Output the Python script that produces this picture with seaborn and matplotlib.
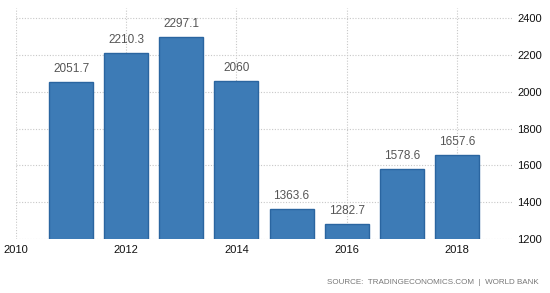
import matplotlib
matplotlib.use("Agg")
import matplotlib.pyplot as plt
import seaborn as sns
import pandas as pd

years = [2011, 2012, 2013, 2014, 2015, 2016, 2017, 2018]
values = [2051.7, 2210.3, 2297.1, 2060, 1363.6, 1282.7, 1578.6, 1657.6]
xticks = [2010, 2012, 2014, 2016, 2018]
yticks = [1200, 1400, 1600, 1800, 2000, 2200, 2400]

sns.set_style("white")
plt.rcParams['font.family'] = ['Liberation Sans', 'DejaVu Sans']

fig = plt.figure(figsize=(5.5, 2.93), dpi=100)
ax = fig.add_axes([16/550, 54/293, 496/550, (239-8)/293])

df = pd.DataFrame({"year": years, "value": values})
sns.barplot(data=df, x="year", y="value", native_scale=True, width=0.8,
            color="#3d7bb6", edgecolor="#2a65a0", linewidth=1, saturation=1, ax=ax)

ax.set_xlim(2010, 2019)
ax.set_ylim(1200, 2455)
ax.set_xticks(xticks)
ax.set_xticklabels([str(t) for t in xticks])
ax.set_yticks(yticks)
ax.yaxis.tick_right()
ax.tick_params(axis='y', length=0, pad=4, labelsize=8, labelcolor="#111111")
ax.tick_params(axis='x', length=0, pad=4.5, labelsize=8, labelcolor="#111111")
ax.set_xlabel("")
ax.set_ylabel("")
ax.grid(True, color="#c8c8c8", linestyle=(0, (1, 1.5)), linewidth=0.8)
ax.set_axisbelow(True)
for s in ax.spines.values():
    s.set_visible(False)

for p, v in zip(ax.patches, values):
    ax.annotate(f"{v:g}", (p.get_x() + p.get_width() / 2, v), xytext=(0, 5),
                textcoords="offset points", ha="center", va="bottom",
                fontsize=8.5, color="#555555")

fig.text(539/550, 11/293, "SOURCE:  TRADINGECONOMICS.COM  |  WORLD BANK", ha="right", va="center",
         fontsize=5.8, color="#777777")

fig.savefig("out.png", dpi=100)
